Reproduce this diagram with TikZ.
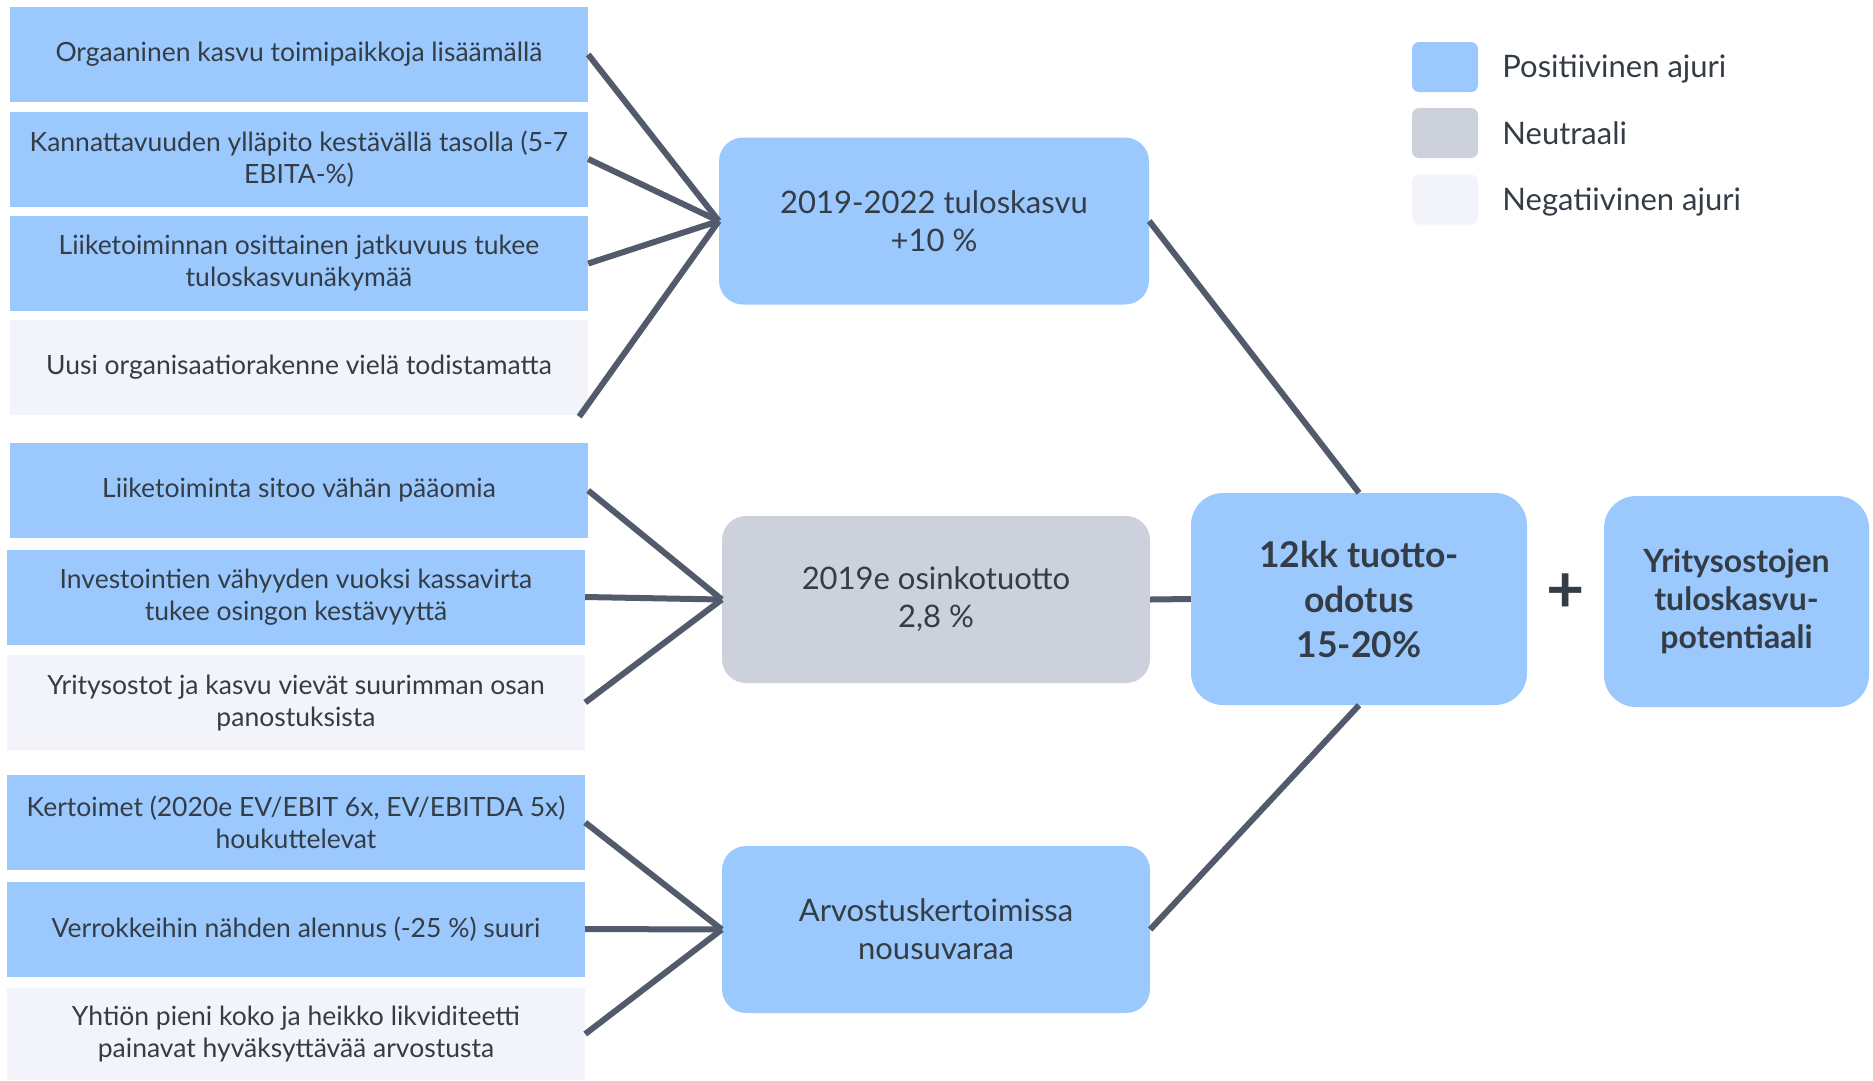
\documentclass[tikz,border=0pt]{standalone}
\usepackage{fontspec}
\setmainfont{Lato}
\usetikzlibrary{positioning}

\definecolor{ajuripos}{HTML}{9BC9FD}
\definecolor{ajurineu}{HTML}{CDD1DC}
\definecolor{ajurineg}{HTML}{F2F4F9}
\definecolor{linkgray}{HTML}{525B6B}
\definecolor{textgray}{HTML}{343C46}

\begin{document}
\begin{tikzpicture}[
		x=1pt, y=-1pt,
		every node/.style={
			text=textgray,
			align=center,
			inner sep=0pt
		},
		driver/.style={
			minimum width=578pt,
			minimum height=95pt,
			font=\fontsize{26.5}{32}\selectfont
		},
		posajuri/.style={fill=ajuripos},
		neuajuri/.style={fill=ajurineu},
		negajuri/.style={fill=ajurineg},
		hub/.style={
			rounded corners=24pt,
			minimum width=428pt,
			minimum height=167pt,
			font=\fontsize{31}{38}\selectfont
		},
		target/.style={
			fill=ajuripos,
			rounded corners=32pt,
			font=\fontsize{35.5}{45}\selectfont\bfseries
		},
		legbox/.style={
			rounded corners=7pt,
			minimum width=66pt,
			minimum height=50pt
		},
		legtext/.style={
			anchor=west,
			font=\fontsize{31}{36}\selectfont
		},
		link/.style={draw=linkgray, line width=6pt}
		]
		
		\useasboundingbox (0,0) rectangle (1873,1080);
		
		% drivers of earnings growth
		\node[driver, posajuri] (b1) at (299,54.5) {Orgaaninen kasvu toimipaikkoja lisäämällä};
		\node[driver, posajuri] (b2) at (299,159) {Kannattavuuden ylläpito kestävällä tasolla (5-7\\ EBITA-\%)};
		\node[driver, posajuri] (b3) at (299,263.5) {Liiketoiminnan osittainen jatkuvuus tukee\\ tuloskasvunäkymää};
		\node[driver, negajuri] (b4) at (299,367) {Uusi organisaatiorakenne vielä todistamatta};
		
		% drivers of dividend yield
		\node[driver, posajuri] (b5) at (299,490.5) {Liiketoiminta sitoo vähän pääomia};
		\node[driver, posajuri] (b6) at (296,597) {Investointien vähyyden vuoksi kassavirta\\ tukee osingon kestävyyttä};
		\node[driver, negajuri] (b7) at (296,702.5) {Yritysostot ja kasvu vievät suurimman osan\\ panostuksista};
		
		% drivers of valuation
		\node[driver, posajuri] (b8) at (296,822.5) {Kertoimet (2020e EV/EBIT 6x, EV/EBITDA 5x)\\ houkuttelevat};
		\node[driver, posajuri] (b9) at (296,929) {Verrokkeihin nähden alennus (-25 \%) suuri};
		\node[driver, negajuri, minimum height=92pt] (b10) at (296,1034) {Yhtiön pieni koko ja heikko likviditeetti\\ painavat hyväksyttävää arvostusta};
		
		% middle column
		\node[hub, posajuri, minimum width=430pt] (growth) at (934,221) {2019-2022 tuloskasvu\\ +10 \%};
		\node[hub, neuajuri] (yield) at (936,599.5) {2019e osinkotuotto\\ 2,8 \%};
		\node[hub, posajuri] (valuation) at (936,929.5) {Arvostuskertoimissa\\ nousuvaraa};
		
		% total return
		\node[target, minimum width=336pt, minimum height=212pt] (total) at (1359,599) {12kk tuotto-\\ odotus\\ 15-20\%};
		\node[font=\fontsize{66}{66}\selectfont\bfseries] (plus) at (1566,593) {+};
		\node[target, minimum width=265pt, minimum height=211pt,
			font=\fontsize{32}{38}\selectfont\bfseries] (acq) at (1736.5,601.5) {Yritysostojen\\ tuloskasvu-\\ potentiaali};
		
		% legend
		\node[legbox, fill=ajuripos] (leg1) at (1445,67) {};
		\node[legbox, fill=ajurineu] (leg2) at (1445,133) {};
		\node[legbox, fill=ajurineg] (leg3) at (1445,199.5) {};
		\node[legtext, right=24pt of leg1, yshift=-2pt] {Positiivinen ajuri};
		\node[legtext, right=24pt of leg2] {Neutraali};
		\node[legtext, right=24pt of leg3, yshift=-2pt] {Negatiivinen ajuri};
		
		% connectors
		\draw[link] (b1.east)--(growth.west);
		\draw[link] (b2.east)--(growth.west);
		\draw[link] (b3.east)--(growth.west);
		\draw[link] ([xshift=-9pt,yshift=-2pt]b4.south east)--(growth.west);
		
		\draw[link] (b5.east)--(yield.west);
		\draw[link] (b6.east)--(yield.west);
		\draw[link] (b7.east)--(yield.west);
		
		\draw[link] (b8.east)--(valuation.west);
		\draw[link] (b9.east)--(valuation.west);
		\draw[link] (b10.east)--(valuation.west);
		
		\draw[link] (growth.east)--(total.north);
		\draw[link] (yield.east)--(total.west);
		\draw[link] (valuation.east)--(total.south);
		
	\end{tikzpicture}
\end{document}
